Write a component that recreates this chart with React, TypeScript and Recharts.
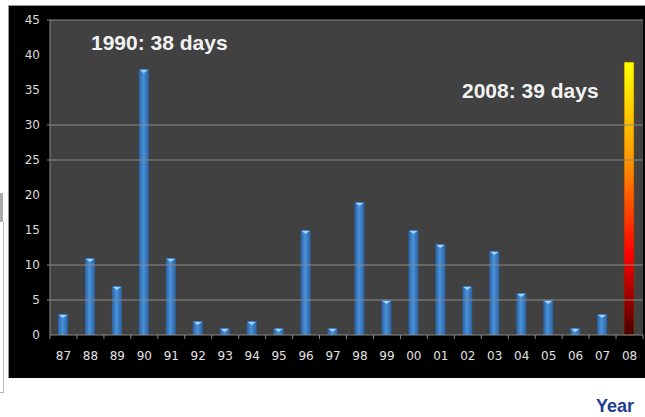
import React from 'react';
import { BarChart, Bar, XAxis, YAxis, CartesianGrid, ReferenceLine, Cell } from 'recharts';

// heat wave days per year (1987-2008)
const years = ['87', '88', '89', '90', '91', '92', '93', '94', '95', '96', '97', '98', '99', '00', '01', '02', '03', '04', '05', '06', '07', '08'];
const days = [3, 11, 7, 38, 11, 2, 1, 2, 1, 15, 1, 19, 5, 15, 13, 7, 12, 6, 5, 1, 3, 39];
const yTicks = [0, 5, 10, 15, 20, 25, 30, 35, 40, 45];
const gridValues = [5, 10, 25, 30, 45];
const highlightYear = '08';

const data = years.map((year, i) => ({ year, days: days[i] }));

const BAND = (643 - 50) / years.length;

const BarShape = (props: any) => {
  const { x, y, width, height, payload } = props;
  if (payload.year === highlightYear) {
    return <rect x={x} y={y} width={width} height={height} fill="url(#hotGrad)" stroke="#6b4a00" strokeWidth={0.6} />;
  }
  return (
    <g>
      <rect x={x} y={y} width={width} height={height} fill="url(#blueGrad)" />
      <polygon
        points={`${x + 1},${y + 1} ${x + width - 1},${y + 1} ${x + width / 2},${y + 4}`}
        fill="#9fd2fb"
      />
    </g>
  );
};

const XTick = (props: any) => {
  const { x, y, payload } = props;
  return (
    <g>
      <line x1={x - BAND / 2} x2={x - BAND / 2} y1={y} y2={y + 4} stroke="#8a8a8a" />
      {payload.index === years.length - 1 && (
        <line x1={x + BAND / 2} x2={x + BAND / 2} y1={y} y2={y + 4} stroke="#8a8a8a" />
      )}
      <text x={x} y={y + 25} textAnchor="middle" fill="#e2e2e2" fontSize={12} fontFamily="DejaVu Sans, Verdana, sans-serif">
        {payload.value}
      </text>
    </g>
  );
};

const YTick = (props: any) => {
  const { x, y, payload } = props;
  return (
    <g>
      {gridValues.includes(payload.value) && (
        <line x1={x - 3} x2={x} y1={y} y2={y} stroke="#8a8a8a" />
      )}
      <text x={x - 10} y={y + 4} textAnchor="end" fill="#dcdcdc" fontSize={12} fontFamily="DejaVu Sans, Verdana, sans-serif">
        {payload.value}
      </text>
    </g>
  );
};

const noteStyle: React.CSSProperties = {
  position: 'absolute',
  color: '#f2f2f2',
  fontFamily: 'Arial, "Liberation Sans", sans-serif',
  fontWeight: 'bold',
  fontSize: 21,
  whiteSpace: 'nowrap',
  lineHeight: 1,
};

export default function App() {
  return (
    <div style={{ position: 'absolute', left: 0, top: 0, width: 645, height: 417, background: '#fff', overflow: 'hidden' }}>
      {/* left edge remnants */}
      <div style={{ position: 'absolute', left: 0, top: 193, width: 3, height: 29, background: '#a9a9a9' }} />
      <div style={{ position: 'absolute', left: 3, top: 222, width: 1, height: 170, background: '#b8b8b8' }} />
      <div style={{ position: 'absolute', left: 0, top: 392, width: 4, height: 1, background: '#b8b8b8' }} />
      {/* black frame */}
      <div style={{ position: 'absolute', left: 8, top: 5, width: 637, height: 373, background: '#000', boxSizing: 'border-box', borderTop: '1px solid #9a9a9a', borderLeft: '1px solid #9a9a9a' }} />
      <div style={{ position: 'absolute', left: 0, top: 0 }}>
        <BarChart width={645} height={417} data={data} margin={{ top: 20, right: 2, bottom: 52, left: 8 }} barSize={10}>
          <defs>
            <linearGradient id="blueGrad" x1="0" y1="0" x2="1" y2="0">
              <stop offset="0%" stopColor="#2a5f9f" />
              <stop offset="45%" stopColor="#4a92da" />
              <stop offset="100%" stopColor="#2b609f" />
            </linearGradient>
            <linearGradient id="hotGrad" x1="0" y1="0" x2="0" y2="1">
              <stop offset="0%" stopColor="#ffff00" />
              <stop offset="35%" stopColor="#ff9900" />
              <stop offset="70%" stopColor="#ff0000" />
              <stop offset="100%" stopColor="#4a0000" />
            </linearGradient>
          </defs>
          <CartesianGrid fill="#414141" horizontal={false} vertical={false} stroke="none" />
          {gridValues.map((v) => (
            <ReferenceLine key={v} y={v} stroke="#8a8a8a" strokeWidth={1} />
          ))}
          <XAxis
            dataKey="year"
            axisLine={{ stroke: '#8a8a8a' }}
            tickLine={false}
            tickSize={0}
            tickMargin={0}
            interval={0}
            height={30}
            tick={<XTick />}
          />
          <YAxis
            domain={[0, 45]}
            ticks={yTicks}
            axisLine={{ stroke: '#8a8a8a' }}
            tickLine={false}
            tickSize={0}
            tickMargin={0}
            width={42}
            tick={<YTick />}
          />
          <Bar dataKey="days" isAnimationActive={false} shape={<BarShape />}>
            {data.map((d) => (
              <Cell key={d.year} fill={d.year === highlightYear ? 'url(#hotGrad)' : 'url(#blueGrad)'} />
            ))}
          </Bar>
        </BarChart>
      </div>
      <div style={{ ...noteStyle, left: 91, top: 32 }}>1990: 38 days</div>
      <div style={{ ...noteStyle, left: 462, top: 80 }}>2008: 39 days</div>
      <div style={{ ...noteStyle, left: 596, top: 397, color: '#1f3b8f', fontSize: 18 }}>Year</div>
    </div>
  );
}
